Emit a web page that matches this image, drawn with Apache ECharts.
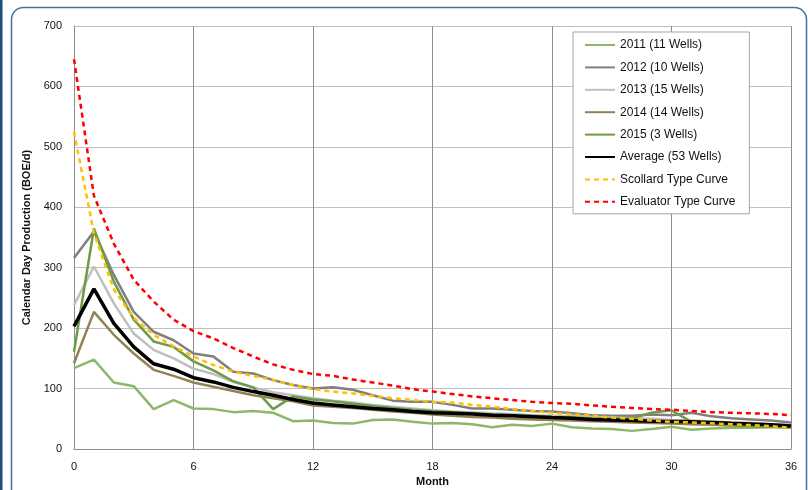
<!DOCTYPE html>
<html>
<head>
<meta charset="utf-8">
<script src="https://cdn.jsdelivr.net/npm/echarts@6/dist/echarts.min.js"></script>
<style>
  html, body { margin: 0; padding: 0; background: #fff; }
  #main { width: 808px; height: 490px; }
</style>
</head>
<body>
<div id="main"></div>
<script>
// monthly production, BOE/d, months 0..36
var y2011 = [134, 148, 110, 104, 66, 81, 67, 66, 61, 63, 60, 46, 47, 43, 42, 48, 49, 45, 42, 43, 41, 36, 40, 38, 42, 36, 34, 33, 30, 33, 37, 32, 34, 35, 35, 36, 36];
var y2012 = [316, 360, 288, 227, 194, 180, 158, 153, 128, 125, 114, 106, 100, 102, 98, 89, 80, 78, 78, 73, 67, 67, 65, 63, 62, 59, 56, 55, 55, 57, 56, 60, 54, 51, 49, 47, 44];
var y2013 = [238, 302, 241, 191, 164, 150, 133, 124, 111, 102, 94, 89, 84, 80, 77, 73, 70, 67, 64, 62, 61, 59, 58, 56, 55, 54, 53, 52, 51, 50, 48, 47, 46, 44, 43, 41, 40];
var y2014 = [142, 227, 189, 158, 131, 121, 110, 103, 96, 89, 84, 79, 72, 70, 68, 65, 62, 60, 57, 55, 53, 52, 50, 49, 48, 47, 46, 45, 44, 43, 42, 41, 40, 39, 38, 37, 36];
var y2015 = [161, 365, 277, 214, 178, 169, 145, 130, 112, 102, 66, 87, 82, 79, 75, 71, 68, 65, 63, 61, 59, 57, 56, 55, 53, 52, 51, 50, 51, 60, 64, 45, 42, 40, 38, 37, 36];
var average = [203, 265, 208, 169, 141, 132, 118, 111, 102, 95, 89, 82, 76, 73, 70, 67, 65, 62, 60, 59, 58, 56, 55, 53.5, 52, 51, 49, 48, 47, 46, 45.5, 45, 44, 42.5, 41.5, 40, 38];
var scollard = [525, 357, 264, 217, 189, 170, 153, 139, 128, 121, 114, 106, 99, 95, 92, 88, 84, 81, 78, 77, 73, 70, 66, 63, 60, 57, 55, 52, 50, 47, 45, 44, 42.5, 41, 39.5, 38, 35];
var evaluator = [645, 419, 340, 280, 244, 214, 195, 183, 167, 153, 140, 131, 124, 121, 115, 110, 105, 99, 95, 91, 87, 84, 81, 78, 76, 75, 72, 70, 68, 66, 65, 63, 61, 60, 59, 58, 56];

var seriesNames = ['2011 (11 Wells)', '2012 (10 Wells)', '2013 (15 Wells)', '2014 (14 Wells)', '2015 (3 Wells)',
  'Average (53 Wells)', 'Scollard Type Curve', 'Evaluator Type Curve'];

var font = "'Liberation Sans Narrow', 'Liberation Sans', sans-serif";

function pairs(arr) {
  return arr.map(function (v, i) { return [i, v]; });
}

function line(name, data, color, width, dashed, z) {
  return {
    name: name,
    type: 'line',
    symbol: 'none',
    z: z,
    lineStyle: { color: color, width: width, type: dashed ? [5, 4] : 'solid' },
    itemStyle: { color: color },
    data: pairs(data)
  };
}

var myChart = echarts.init(document.getElementById('main'));

var option = {
  animation: false,
  backgroundColor: '#fff',
  graphic: [
    { type: 'rect', shape: { x: 11.5, y: 7.5, width: 795, height: 500, r: 12 },
      style: { fill: 'none', stroke: '#41719c', lineWidth: 1.5 }, silent: true },
    { type: 'rect', shape: { x: 0, y: 0, width: 2.5, height: 490 },
      style: { fill: '#1f4e79' }, silent: true }
  ],
  grid: { left: 74, right: 17, top: 26, bottom: 41, outerBoundsMode: 'none' },
  legend: {
    orient: 'vertical',
    left: 573,
    top: 32,
    data: seriesNames,
    itemWidth: 30,
    itemHeight: 10,
    itemGap: 10.4,
    padding: [7, 14, 6, 11],
    backgroundColor: '#fff',
    borderColor: '#a6a6a6',
    borderWidth: 1,
    itemStyle: { opacity: 0 },
    textStyle: { fontFamily: font, fontSize: 12, color: '#111', lineHeight: 12 }
  },
  xAxis: {
    type: 'value',
    min: 0,
    max: 36,
    interval: 6,
    name: 'Month',
    nameLocation: 'middle',
    nameGap: 24,
    nameTextStyle: { fontFamily: font, fontSize: 11, fontWeight: 'bold', color: '#111' },
    axisLine: { lineStyle: { color: '#8c8c8c' } },
    axisTick: { show: false },
    axisLabel: { fontFamily: font, fontSize: 11, color: '#111', margin: 12 },
    splitLine: { lineStyle: { color: '#8c8c8c', width: 1 } }
  },
  yAxis: {
    type: 'value',
    min: 0,
    max: 700,
    interval: 100,
    name: 'Calendar Day Production (BOE/d)',
    nameLocation: 'middle',
    nameGap: 38,
    nameTextStyle: { fontFamily: font, fontSize: 11, fontWeight: 'bold', color: '#111' },
    axisLine: { show: true, lineStyle: { color: '#8c8c8c' } },
    axisTick: { show: false },
    axisLabel: { fontFamily: font, fontSize: 11, color: '#111', margin: 12 },
    splitLine: { lineStyle: { color: '#bfbfbf', width: 1 } }
  },
  series: [
    line(seriesNames[0], y2011, '#8db86a', 2.5, false, 2),
    line(seriesNames[1], y2012, '#7f7f7f', 2.5, false, 2),
    line(seriesNames[2], y2013, '#bfbfbf', 2.5, false, 2),
    line(seriesNames[3], y2014, '#938153', 2.5, false, 2),
    line(seriesNames[4], y2015, '#6f9a48', 2.5, false, 3),
    line(seriesNames[5], average, '#000000', 3.5, false, 4),
    line(seriesNames[6], scollard, '#ffc000', 2.5, true, 5),
    line(seriesNames[7], evaluator, '#ff0000', 2.5, true, 5)
  ]
};

myChart.setOption(option);
</script>
</body>
</html>
